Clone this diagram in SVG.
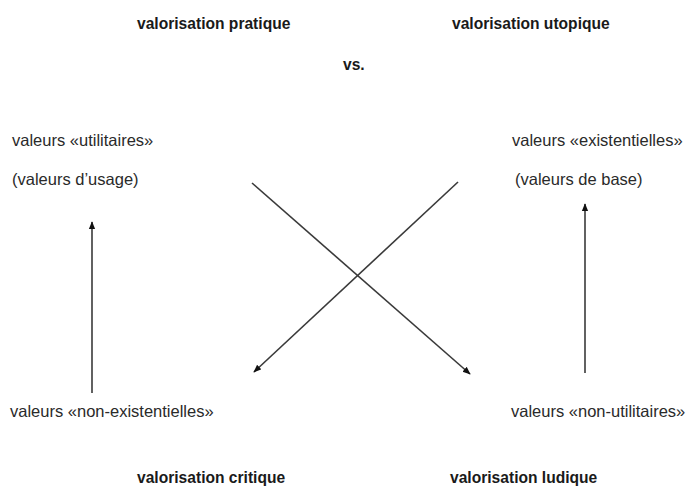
<svg xmlns="http://www.w3.org/2000/svg" width="687" height="486" viewBox="0 0 687 486">
<style>
text{font-family:"Liberation Sans",Arial,sans-serif;font-size:16.5px;fill:#2a2a2a}
.t{font-weight:bold;font-size:15.6px;fill:#1a1a1a}
.c{stroke:#3a3a3a;stroke-width:1.6;fill:none}
</style>
<defs>
<marker id="ah" viewBox="0 0 10 10" refX="9" refY="5" markerWidth="5" markerHeight="5" orient="auto" markerUnits="strokeWidth">
<path d="M0,1 L10,5 L0,9 z" fill="#111"/>
</marker>
</defs>
<rect width="687" height="486" fill="#fff"/>
<g id="titles">
<text class="t" x="137" y="29">valorisation pratique</text>
<text class="t" x="452" y="29">valorisation utopique</text>
<text class="t" x="343" y="70">vs.</text>
<text class="t" x="137" y="483">valorisation critique</text>
<text class="t" x="450" y="483">valorisation ludique</text>
</g>
<g id="n-utilitaires">
<text x="12" y="146">valeurs «utilitaires»</text>
<text x="12" y="185">(valeurs d’usage)</text>
</g>
<g id="n-existentielles">
<text x="512" y="146">valeurs «existentielles»</text>
<text x="515" y="185">(valeurs de base)</text>
</g>
<g id="n-non-existentielles">
<text x="10" y="417">valeurs «non-existentielles»</text>
</g>
<g id="n-non-utilitaires">
<text x="511" y="417">valeurs «non-utilitaires»</text>
</g>
<g id="connectors">
<line class="c" x1="92" y1="393" x2="92" y2="222" marker-end="url(#ah)"/>
<line class="c" x1="585" y1="373" x2="585" y2="204" marker-end="url(#ah)"/>
<line class="c" x1="252" y1="183" x2="470" y2="374" marker-end="url(#ah)"/>
<line class="c" x1="458" y1="182" x2="254" y2="372" marker-end="url(#ah)"/>
</g>
</svg>
